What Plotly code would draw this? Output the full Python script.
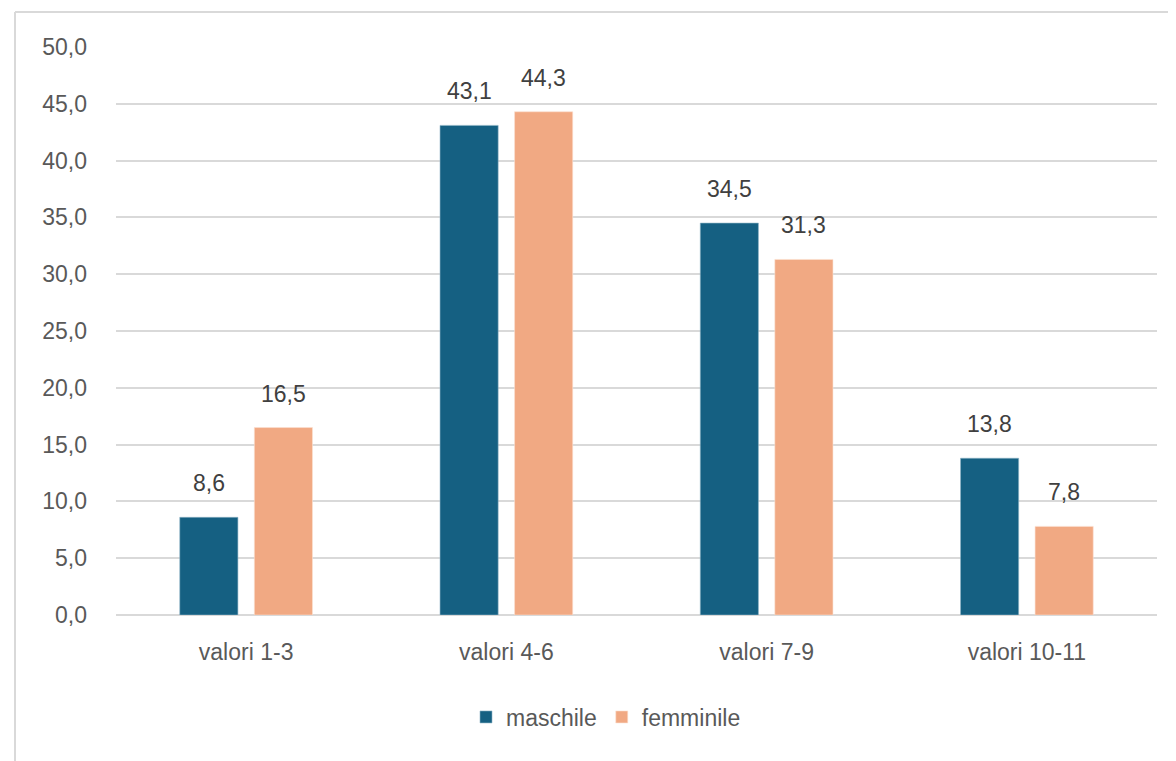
import plotly.graph_objects as go

categorie = ["valori 1-3", "valori 4-6", "valori 7-9", "valori 10-11"]
maschile = [8.6, 43.1, 34.5, 13.8]
femminile = [16.5, 44.3, 31.3, 7.8]
y_ticks = [0, 5, 10, 15, 20, 25, 30, 35, 40, 45, 50]

font_family = "Liberation Sans, Arial, sans-serif"
grigio = "#595959"
fs = 23

# the page body adds an 8 px offset, so the figure is 8 px smaller
W, H = 1168, 753
l, r, t, b = 108, 19, 39, 146
pw, ph = W - l - r, H - t - b

fig = go.Figure()
fig.add_trace(go.Bar(x=categorie, y=maschile, name="maschile",
                     marker=dict(color="#156082", line=dict(color="#8fb3c6", width=0.6))))
fig.add_trace(go.Bar(x=categorie, y=femminile, name="femminile",
                     marker=dict(color="#F1A983", line=dict(color="#fbe0d2", width=0.6))))

# data labels above each bar
bargap, groupgap = 0.427, 0.22
slot = pw / len(categorie) * (1 - bargap) / 2
for serie, shift in ((maschile, -slot / 2), (femminile, slot / 2)):
    for cat, v in zip(categorie, serie):
        fig.add_annotation(x=cat, y=v, text=f"{v:.1f}".replace(".", ","),
                           showarrow=False, yanchor="bottom", yshift=19, xshift=shift,
                           font=dict(size=fs, color="#404040", family=font_family))

# page border (left and top edges visible)
bx = (7 - l) / pw
by = 1 + (t - 4) / ph
fig.add_shape(type="line", xref="paper", yref="paper", x0=bx, x1=bx, y0=-2, y1=by,
              line=dict(color="#d9d9d9", width=2))
fig.add_shape(type="line", xref="paper", yref="paper", x0=bx, x1=1.1, y0=by, y1=by,
              line=dict(color="#d9d9d9", width=2))

fig.update_layout(
    width=W, height=H,
    margin=dict(l=l, r=r, t=t, b=b),
    paper_bgcolor="white", plot_bgcolor="white",
    separators=",.",
    barmode="group", bargap=bargap, bargroupgap=groupgap,
    font=dict(family=font_family, size=fs, color=grigio),
    xaxis=dict(showgrid=False, showline=False, ticks="", ticklabelstandoff=21,
               tickfont=dict(size=fs, color=grigio)),
    yaxis=dict(range=[0, 50], tickvals=y_ticks, tickformat=".1f",
               showgrid=True, gridcolor="#d9d9d9", gridwidth=1.5,
               zeroline=True, zerolinecolor="#d9d9d9", zerolinewidth=1.5,
               showline=False, ticks="", ticklabelstandoff=28,
               tickfont=dict(size=fs, color=grigio)),
    legend=dict(orientation="h", x=(598 - l) / pw, xanchor="center",
                y=(607 - 709) / ph, yanchor="middle",
                font=dict(size=fs, color=grigio), itemwidth=30),
    showlegend=True,
)

fig.write_html("out.html")
